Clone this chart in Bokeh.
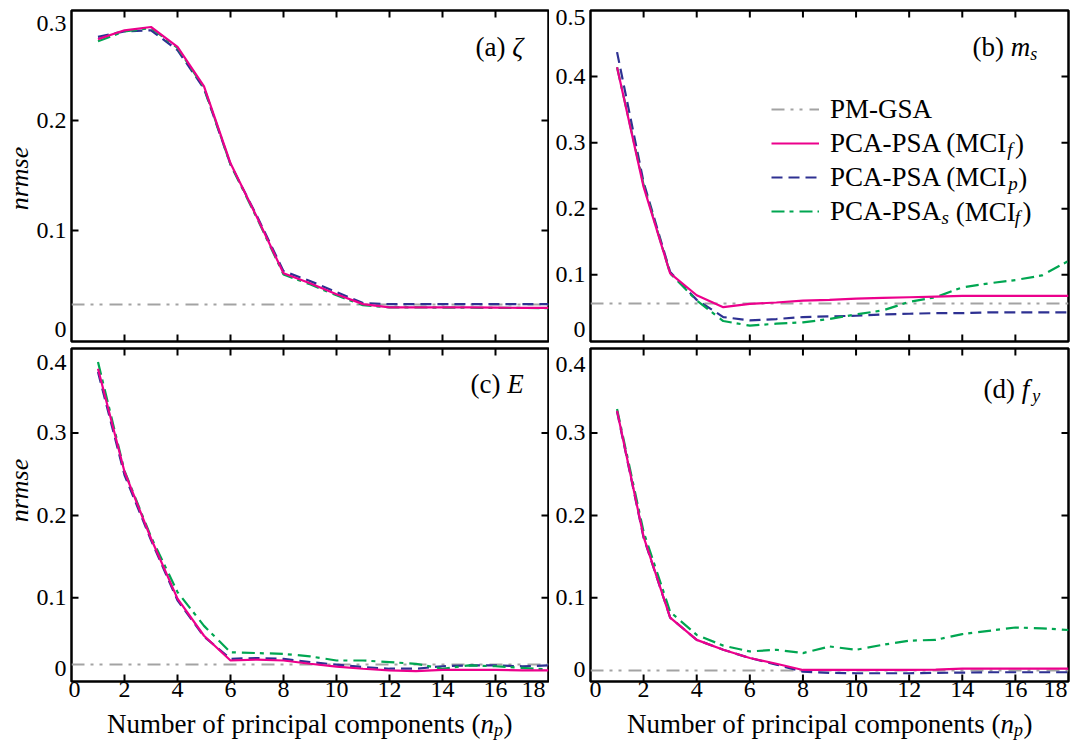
import math
from bokeh.plotting import figure
from bokeh.layouts import column, row
from bokeh.models import (LinearAxis, FixedTicker, Range1d, Label, Legend,
                          LegendItem)
from bokeh.core.properties import value
from bokeh.embed import file_html
from bokeh.resources import INLINE

# ---------------- data ----------------
n_pc = list(range(1, 19))
x_ticks = [0, 2, 4, 6, 8, 10, 12, 14, 16, 18]
x_tick_labels = ["0", "2", "4", "6", "8", "10", "12", "14", "16", "18"]

# (a) zeta
zeta_y_ticks = [0, 0.1, 0.2, 0.3]
zeta_y_labels = ["0", "0.1", "0.2", "0.3"]
zeta_pm_gsa = 0.033
zeta_mcif = [0.274, 0.282, 0.285, 0.267, 0.231, 0.161, 0.112, 0.061, 0.052,
             0.042, 0.033, 0.030, 0.030, 0.030, 0.030, 0.0298, 0.0296, 0.0295]
zeta_mcip = [0.276, 0.281, 0.282, 0.264, 0.229, 0.160, 0.113, 0.063, 0.054,
             0.044, 0.034, 0.033, 0.033, 0.033, 0.033, 0.033, 0.033, 0.033]
zeta_psas = [0.272, 0.281, 0.284, 0.266, 0.230, 0.160, 0.111, 0.060, 0.051,
             0.041, 0.032, 0.030, 0.030, 0.0298, 0.0297, 0.0296, 0.0295, 0.0294]

# (b) m_s
ms_y_ticks = [0, 0.1, 0.2, 0.3, 0.4, 0.5]
ms_y_labels = ["0", "0.1", "0.2", "0.3", "0.4", "0.5"]
ms_pm_gsa = 0.057
ms_mcif = [0.414, 0.233, 0.102, 0.069, 0.051, 0.056, 0.058, 0.061, 0.062,
           0.064, 0.065, 0.066, 0.067, 0.068, 0.068, 0.068, 0.068, 0.068]
ms_mcip = [0.437, 0.240, 0.104, 0.062, 0.036, 0.031, 0.033, 0.036, 0.037,
           0.038, 0.040, 0.041, 0.042, 0.042, 0.043, 0.043, 0.043, 0.043]
ms_psas = [0.414, 0.236, 0.102, 0.061, 0.030, 0.023, 0.026, 0.028, 0.033,
           0.040, 0.046, 0.059, 0.066, 0.081, 0.087, 0.092, 0.099, 0.121]

# (c) E
e_y_ticks = [0, 0.1, 0.2, 0.3, 0.4]
e_y_labels = ["0", "0.1", "0.2", "0.3", "0.4"]
e_pm_gsa = 0.019
e_mcif = [0.378, 0.253, 0.172, 0.099, 0.054, 0.024, 0.025, 0.024, 0.020,
          0.0165, 0.014, 0.012, 0.011, 0.0125, 0.0125, 0.0125, 0.012, 0.012]
e_mcip = [0.374, 0.249, 0.170, 0.097, 0.053, 0.026, 0.027, 0.026, 0.022,
          0.019, 0.016, 0.014, 0.014, 0.017, 0.018, 0.018, 0.017, 0.018]
e_psas = [0.386, 0.254, 0.174, 0.107, 0.066, 0.034, 0.033, 0.032, 0.029,
          0.024, 0.024, 0.022, 0.020, 0.014, 0.018, 0.017, 0.015, 0.013]

# (d) f_y
fy_y_ticks = [0, 0.1, 0.2, 0.3, 0.4]
fy_y_labels = ["0", "0.1", "0.2", "0.3", "0.4"]
fy_pm_gsa = 0.0116
fy_mcif = [0.327, 0.174, 0.076, 0.049, 0.037, 0.027, 0.020, 0.0125, 0.0125,
           0.0125, 0.0125, 0.0125, 0.013, 0.014, 0.014, 0.014, 0.014, 0.014]
fy_mcip = [0.326, 0.173, 0.076, 0.049, 0.037, 0.027, 0.019, 0.0105, 0.009,
           0.0085, 0.0085, 0.0085, 0.009, 0.0093, 0.0097, 0.0097, 0.0097, 0.0097]
fy_psas = [0.329, 0.180, 0.083, 0.055, 0.042, 0.035, 0.037, 0.033, 0.041,
           0.037, 0.043, 0.048, 0.049, 0.056, 0.060, 0.064, 0.063, 0.061]

legend_labels = ["PM-GSA", "PCA-PSA (MCI", "PCA-PSA (MCI", "PCA-PSA"]

# ---------------- style ----------------
SERIF = "Liberation Serif"
PINK = "#ec008c"
BLUE = "#2e3192"
GREEN = "#00a651"
GRAY = "#a3a3a3"
DASH_PM = "13 6 3 6 3 7"
DASH_P = "11 6"
DASH_S = "13 5 4 6"
TICK_FONT = "24px"

REG_W = {'N': 722, 'u': 500, 'm': 778, 'b': 500, 'e': 444, 'r': 333, ' ': 250,
         'o': 500, 'f': 333, 'p': 500, 'i': 278, 'n': 500, 'c': 444, 'a': 444,
         'l': 278, 't': 278, 's': 389, '(': 333, ')': 333, 'P': 556, 'M': 889,
         '-': 333, 'G': 722, 'S': 556, 'A': 722, 'C': 667, 'I': 333, 'd': 500,
         '.': 250}
ITA_W = {'n': 500, 'p': 500, 'm': 722, 's': 389, 'E': 611, 'f': 278, 'y': 444,
         'r': 389, 'e': 444}


def tw(s, size, italic=False):
    t = ITA_W if italic else REG_W
    return sum(t.get(ch, 500) for ch in s) * size / 1000.0


# frame top-left corners in page coordinates
FR = {'a': (70, 10), 'b': (590, 10), 'c': (70, 348), 'd': (590, 348)}
FRAME_W = 478
ROW1_H = 344
ROW2_H = 364
XT_H = 740 - ROW1_H - ROW2_H
STRIP_W = 33                      # left strip holding the "nrmse" titles
LEFT_W = 549 - STRIP_W            # width of panels a and c
LEFT_BORDER = 70 - STRIP_W


def mk_label(x, y, text, size, italic=False, align="left", angle=0.0,
             dx=0.0, dy=0.0):
    return Label(x=x, y=y, x_units="data", y_units="data", x_offset=dx,
                 y_offset=dy, text=text, text_font=SERIF,
                 text_font_size=f"{size}px",
                 text_font_style="italic" if italic else "normal",
                 text_align=align, text_baseline="middle", angle=angle,
                 text_color="black")


def put(p, key, rx, ry, text, size, italic=False, align="left"):
    """text inside a panel frame; (rx, ry) = page position of text centre line"""
    fl, ft = FR[key]
    p.add_layout(mk_label(0, p.y_range.end, text, size, italic, align,
                          dx=rx - fl, dy=-(ry - ft)))


def make_panel(key, width, height, bl, br, bt, bb, y_lo, y_hi, y_ticks,
               y_labels, end_shift_px, x_end_shift_px, pm, mcif, mcip, psas):
    frame_h = height - bt - bb
    p = figure(width=width, height=height, output_backend="svg",
               toolbar_location=None, x_range=Range1d(0, 18),
               y_range=Range1d(y_lo, y_hi), x_axis_type=None, y_axis_type=None,
               min_border=0, min_border_left=bl, min_border_right=br,
               min_border_top=bt, min_border_bottom=bb)
    p.outline_line_color = "black"
    p.outline_line_width = 2.5
    p.background_fill_color = "white"
    p.border_fill_color = "white"

    # left axis: labels only; the end labels sit just inside the frame
    ypx = frame_h / (y_hi - y_lo)
    y_lab_pos = list(y_ticks)
    y_lab_pos[0] = y_ticks[0] + end_shift_px[0] / ypx
    y_lab_pos[-1] = y_ticks[-1] - end_shift_px[1] / ypx
    left = LinearAxis(ticker=FixedTicker(ticks=y_lab_pos, minor_ticks=[]))
    left.major_label_overrides = dict(zip(y_lab_pos, y_labels))
    axes = [(left, "left", 5)]
    if x_end_shift_px is not None:
        xpx = FRAME_W / 18.0
        x_lab_pos = list(x_ticks)
        x_lab_pos[0] = x_ticks[0] + x_end_shift_px[0] / xpx
        x_lab_pos[-1] = x_ticks[-1] - x_end_shift_px[1] / xpx
        below = LinearAxis(ticker=FixedTicker(ticks=x_lab_pos, minor_ticks=[]))
        below.major_label_overrides = dict(zip(x_lab_pos, x_tick_labels))
        axes.append((below, "below", 0))
    for ax, side, standoff in axes:
        ax.major_tick_in = 0
        ax.major_tick_out = 0
        ax.minor_tick_in = 0
        ax.minor_tick_out = 0
        ax.axis_line_color = None
        ax.major_tick_line_color = None
        ax.major_label_text_font = SERIF
        ax.major_label_text_font_size = TICK_FONT
        ax.major_label_text_color = "black"
        ax.major_label_standoff = standoff
        p.add_layout(ax, side)

    # inward tick marks on all four edges
    inner_x = x_ticks[1:-1]
    inner_y = y_ticks[1:-1]
    for yy in (y_lo, y_hi):
        p.scatter(inner_x, [yy] * len(inner_x), marker="dash", size=14,
                  angle=math.pi / 2, line_color="black", line_width=2)
    for xx in (0, 18):
        p.scatter([xx] * len(inner_y), inner_y, marker="dash", size=14,
                  line_color="black", line_width=2)

    r_pm = p.hspan(y=[pm], line_color=GRAY, line_width=2, line_dash=DASH_PM)
    r_p = p.line(n_pc, mcip, line_color=BLUE, line_width=2.2, line_dash=DASH_P)
    r_s = p.line(n_pc, psas, line_color=GREEN, line_width=2.2, line_dash=DASH_S)
    r_f = p.line(n_pc, mcif, line_color=PINK, line_width=2.2)
    return p, r_pm, r_f, r_p, r_s


def carrier(width, height, x0, y0):
    c = figure(width=width, height=height, output_backend="svg",
               toolbar_location=None, x_range=Range1d(x0, x0 + width),
               y_range=Range1d(y0 + height, y0), x_axis_type=None,
               y_axis_type=None, min_border=0)
    c.outline_line_color = None
    c.background_fill_color = "white"
    c.border_fill_color = "white"
    return c


bb2 = ROW2_H - 4 - 333
fa, *_ = make_panel('a', LEFT_W, ROW1_H, LEFT_BORDER, 1, 10, 3, -0.001, 0.300,
                    zeta_y_ticks, zeta_y_labels, (11, 13), None,
                    zeta_pm_gsa, zeta_mcif, zeta_mcip, zeta_psas)
fb, rb_pm, rb_f, rb_p, rb_s = make_panel('b', 521, ROW1_H, 41, 2, 10, 3,
                                         -0.001, 0.500, ms_y_ticks,
                                         ms_y_labels, (11, 7), None,
                                         ms_pm_gsa, ms_mcif, ms_mcip, ms_psas)
fc, *_ = make_panel('c', LEFT_W, ROW2_H, LEFT_BORDER, 1, 4, bb2, -0.0015,
                    0.4025, e_y_ticks, e_y_labels, (12, 12), (3, 15),
                    e_pm_gsa, e_mcif, e_mcip, e_psas)
fd, *_ = make_panel('d', 521, ROW2_H, 41, 2, 4, bb2, -0.0015, 0.4025,
                    fy_y_ticks, fy_y_labels, (11, 14), (5, 13),
                    fy_pm_gsa, fy_mcif, fy_mcip, fy_psas)

# ---------------- y axis titles (left strip) ----------------
ylab = carrier(STRIP_W, ROW1_H + ROW2_H, 0, 0)
for cy in (178, 490):
    ylab.add_layout(mk_label(18.5, cy, "nrmse", 26, italic=True,
                             align="center", angle=math.pi / 2))

# ---------------- x axis titles (bottom strip) ----------------
xlab = carrier(1070, XT_H, 0, ROW1_H + ROW2_H)
XT = "Number of principal components ("
FS, SS = 27, 18
for cx in (309, 829):
    w_tot = tw(XT, FS) + tw("n", FS, True) + tw("p", SS, True) + tw(")", FS)
    x = cx - w_tot / 2
    mid = 723          # centre line of the main text (baseline ~732)
    xlab.add_layout(mk_label(x, mid, XT, FS))
    x += tw(XT, FS)
    xlab.add_layout(mk_label(x, mid, "n", FS, italic=True))
    x += tw("n", FS, True)
    xlab.add_layout(mk_label(x, mid + 6.5, "p", SS, italic=True))
    x += tw("p", SS, True) + 0.5
    xlab.add_layout(mk_label(x, mid, ")", FS))

# ---------------- panel labels ----------------
x = 474
put(fa, 'a', x, 46, "(a)", 27)
put(fa, 'a', x + tw("(a) ", 27), 46, "\u03b6", 27, italic=True)

x = 972
put(fb, 'b', x, 46, "(b)", 27)
x += tw("(b) ", 27)
put(fb, 'b', x, 46, "m", 27, italic=True)
x += tw("m", 27, True)
put(fb, 'b', x, 53, "s", 18, italic=True)

x = 469
put(fc, 'c', x, 383, "(c)", 27)
put(fc, 'c', x + tw("(c) ", 27), 383, "E", 27, italic=True)

x = 983
put(fd, 'd', x, 388, "(d)", 27)
x += tw("(d) ", 27)
put(fd, 'd', x, 388, "f", 27, italic=True)
x += tw("f", 27, True) + 3
put(fd, 'd', x, 395, "y", 18, italic=True)

# ---------------- legend (panel b) ----------------
legend = Legend(items=[LegendItem(label=value(legend_labels[0]), renderers=[rb_pm]),
                       LegendItem(label=value(legend_labels[1]), renderers=[rb_f]),
                       LegendItem(label=value(legend_labels[2]), renderers=[rb_p]),
                       LegendItem(label=value(legend_labels[3]), renderers=[rb_s])],
                location=(181, 113), orientation="vertical", glyph_width=48,
                glyph_height=34, label_height=34, label_standoff=11,
                spacing=0, padding=0, margin=0, border_line_color=None,
                background_fill_alpha=0, label_text_font=SERIF,
                label_text_font_size="27px", label_text_baseline="middle",
                label_text_color="black")
fb.add_layout(legend)

LX = 830
rows = [109, 143, 177, 211]
# row 2: PCA-PSA (MCI_f)
x = LX + tw(legend_labels[1], 27)
put(fb, 'b', x - 1, rows[1] + 6, "f", 19, italic=True)
put(fb, 'b', x - 1 + tw("f", 19, True) + 2.5, rows[1], ")", 27)
# row 3: PCA-PSA (MCI_p)
x = LX + tw(legend_labels[2], 27)
put(fb, 'b', x, rows[2] + 6, "p", 19, italic=True)
put(fb, 'b', x + tw("p", 19, True) + 0.5, rows[2], ")", 27)
# row 4: PCA-PSA_s (MCI_f)
x = LX + tw(legend_labels[3], 27)
put(fb, 'b', x, rows[3] + 6, "s", 19, italic=True)
x += tw("s", 19, True) + tw(" ", 27)
put(fb, 'b', x, rows[3], "(MCI", 27)
x += tw("(MCI", 27)
put(fb, 'b', x - 1, rows[3] + 6, "f", 19, italic=True)
put(fb, 'b', x - 1 + tw("f", 19, True) + 2.5, rows[3], ")", 27)

layout = column(row(ylab, column(row(fa, fb), row(fc, fd))), xlab)
open("out.html", "w").write(file_html(layout, INLINE, title="nrmse"))
